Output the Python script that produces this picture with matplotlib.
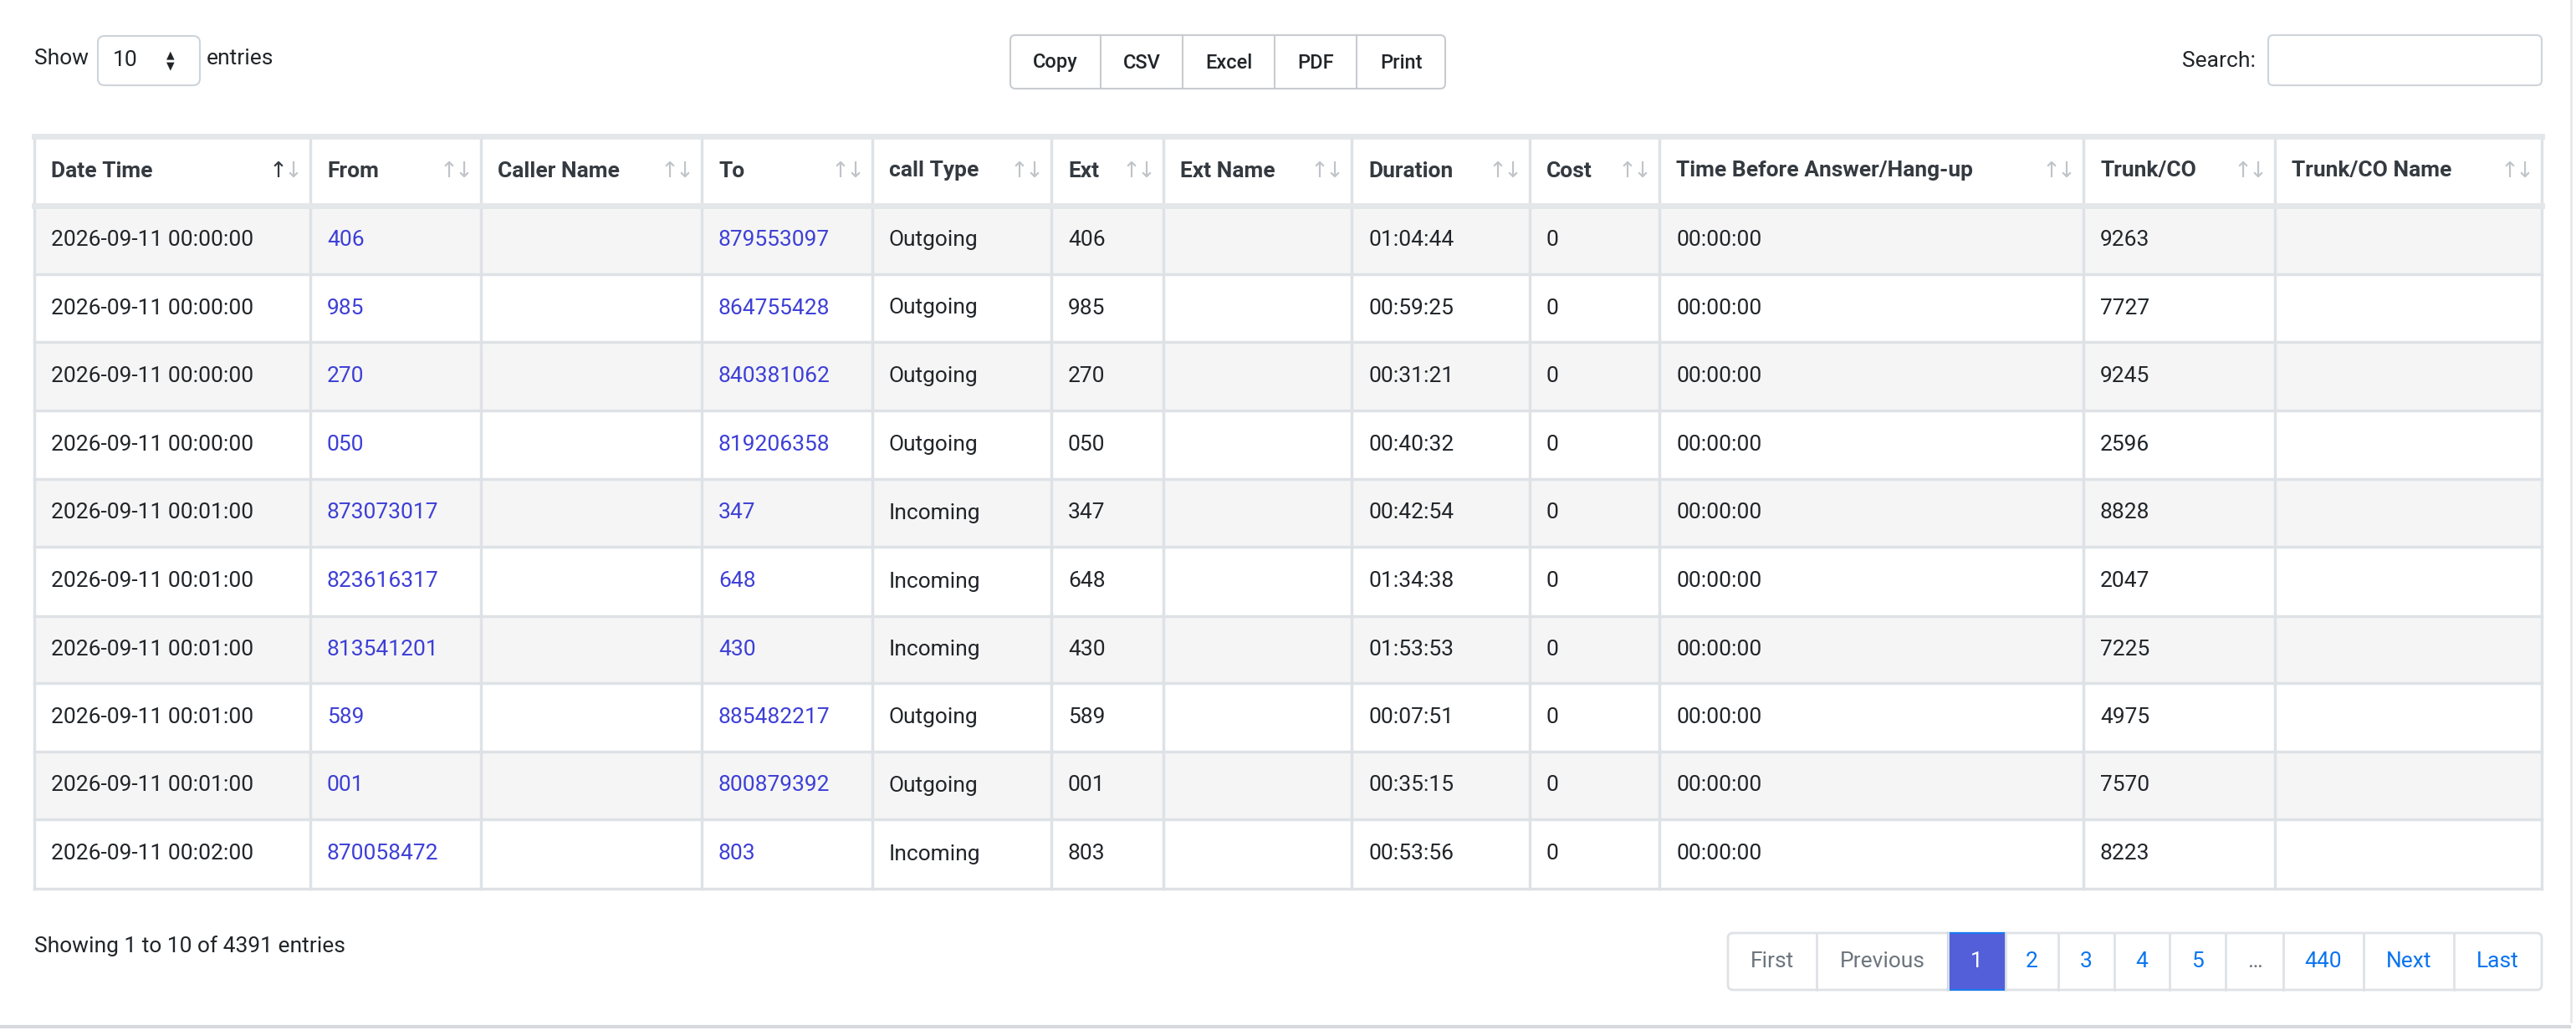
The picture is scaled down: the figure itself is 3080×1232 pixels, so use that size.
import matplotlib
matplotlib.use("Agg")
import matplotlib.pyplot as plt
from matplotlib.patches import Rectangle, FancyBboxPatch

plt.rcParams['font.family'] = ['Roboto', 'DejaVu Sans']

headers = ["Date Time", "From", "Caller Name", "To", "call Type", "Ext", "Ext Name",
           "Duration", "Cost", "Time Before Answer/Hang-up", "Trunk/CO", "Trunk/CO Name"]
date_time = ["2026-09-11 00:00:00"] * 4 + ["2026-09-11 00:01:00"] * 5 + ["2026-09-11 00:02:00"]
from_no = ["406", "985", "270", "050", "873073017", "823616317", "813541201", "589", "001", "870058472"]
caller_name = [""] * 10
to_no = ["879553097", "864755428", "840381062", "819206358", "347", "648", "430", "885482217", "800879392", "803"]
call_type = ["Outgoing"] * 4 + ["Incoming"] * 3 + ["Outgoing"] * 2 + ["Incoming"]
ext = ["406", "985", "270", "050", "347", "648", "430", "589", "001", "803"]
ext_name = [""] * 10
duration = ["01:04:44", "00:59:25", "00:31:21", "00:40:32", "00:42:54", "01:34:38", "01:53:53", "00:07:51", "00:35:15", "00:53:56"]
cost = ["0"] * 10
time_before = ["00:00:00"] * 10
trunk = ["9263", "7727", "9245", "2596", "8828", "2047", "7225", "4975", "7570", "8223"]
trunk_name = [""] * 10
buttons = ["Copy", "CSV", "Excel", "PDF", "Print"]
pages = ["First", "Previous", "1", "2", "3", "4", "5", "…", "440", "Next", "Last"]
info_text = "Showing 1 to 10 of 4391 entries"

columns = [date_time, from_no, caller_name, to_no, call_type, ext, ext_name,
           duration, cost, time_before, trunk, trunk_name]
link_cols = {1, 3}

W, H = 3080, 1232
fig = plt.figure(figsize=(W / 100, H / 100), dpi=100)
ax = fig.add_axes([0, 0, 1, 1])
ax.set_xlim(0, W)
ax.set_ylim(H, 0)
ax.axis('off')

TXT = "#212529"
HDR = "#343a40"
LINK = "#3d3fd6"
BORDER = "#dee2e6"
FS = 19

# card bottom border
ax.plot([0, 3072], [1228, 1228], color="#d5d8dc", lw=3)
ax.plot([3074, 3074], [0, 1222], color="#e6e8ea", lw=2)

# Show entries
ax.text(41, 70, "Show", fontsize=FS, color=TXT, va='center')
ax.add_patch(FancyBboxPatch((117, 43), 122, 59, boxstyle="round,pad=0,rounding_size=8",
                            fc="white", ec="#ced4da", lw=1.5))
ax.text(135, 72, "10", fontsize=FS, color=TXT, va='center')
ax.text(204, 72, "▲", fontsize=9, color=TXT, ha='center', va='bottom')
ax.text(204, 72, "▼", fontsize=9, color=TXT, ha='center', va='top')
ax.text(247, 70, "entries", fontsize=FS, color=TXT, va='center')

# buttons
bx = [1208, 1316, 1414, 1524, 1622, 1728]
ax.add_patch(FancyBboxPatch((bx[0], 42), bx[-1] - bx[0], 64, boxstyle="round,pad=0,rounding_size=6",
                            fc="white", ec="#c8ccd0", lw=1.5))
for i, b in enumerate(buttons):
    if i > 0:
        ax.plot([bx[i], bx[i]], [42, 106], color="#c8ccd0", lw=1.5)
    ax.text((bx[i] + bx[i + 1]) / 2, 75, b, fontsize=17, color=TXT, ha='center', va='center', fontweight='medium')

# search
ax.text(2697, 73, "Search:", fontsize=FS, color=TXT, ha='right', va='center')
ax.add_patch(FancyBboxPatch((2712, 42), 327, 60, boxstyle="round,pad=0,rounding_size=6",
                            fc="white", ec="#ced4da", lw=1.5))

# table
cx = [41, 371, 575, 839, 1043, 1257, 1391, 1616, 1829, 1984, 2491, 2720, 3039]
ry = [163, 246, 328, 409, 491, 573, 654, 737, 817, 899, 980, 1063]
for r in range(10):
    if r % 2 == 0:
        ax.add_patch(Rectangle((cx[0], ry[r + 1]), cx[-1] - cx[0], ry[r + 2] - ry[r + 1], fc="#f5f5f5", ec="none"))
for x in cx:
    ax.plot([x, x], [ry[0], ry[-1]], color=BORDER, lw=2.5)
for i, y in enumerate(ry):
    lw = 5 if i in (0, 1) else 2.5
    ax.plot([cx[0], cx[-1]], [y, y], color="#e4e7ea" if i < 2 else BORDER, lw=lw)

for c, h in enumerate(headers):
    ym = (ry[0] + ry[1]) / 2
    ax.text(cx[c] + 20, ym, h, fontsize=FS, color=HDR, fontweight='bold', va='center')
    ax.text(cx[c + 1] - 38, ym, "↑", fontsize=FS, color=HDR if c == 0 else "#c0c4c8",
            ha='center', va='center', family='DejaVu Sans')
    ax.text(cx[c + 1] - 20, ym, "↓", fontsize=FS, color="#c0c4c8", ha='center', va='center', family='DejaVu Sans')
    for r, val in enumerate(columns[c]):
        yc = (ry[r + 1] + ry[r + 2]) / 2
        ax.text(cx[c] + 20, yc, val, fontsize=FS, color=LINK if c in link_cols else TXT, va='center')

# footer
ax.text(41, 1132, info_text, fontsize=FS, color=TXT, va='center')

px = [2066, 2172, 2329, 2398, 2461, 2528, 2594, 2661, 2730, 2826, 2934, 3039]
py0, py1 = 1116, 1184
ax.add_patch(FancyBboxPatch((px[0], py0), px[-1] - px[0], py1 - py0, boxstyle="round,pad=0,rounding_size=6",
                            fc="white", ec=BORDER, lw=2))
for i, p in enumerate(pages):
    if i > 0:
        ax.plot([px[i], px[i]], [py0, py1], color=BORDER, lw=2)
    if p == "1":
        ax.add_patch(Rectangle((px[i], py0), px[i + 1] - px[i], py1 - py0, fc="#535fd8", ec="#1b7bf0", lw=1.5))
        col = "white"
    elif p in ("First", "Previous", "…"):
        col = "#6c757d"
    else:
        col = "#0a74f0"
    ax.text((px[i] + px[i + 1]) / 2, (py0 + py1) / 2, p, fontsize=FS, color=col, ha='center', va='center')

fig.savefig("out.png", dpi=100, facecolor="white")
